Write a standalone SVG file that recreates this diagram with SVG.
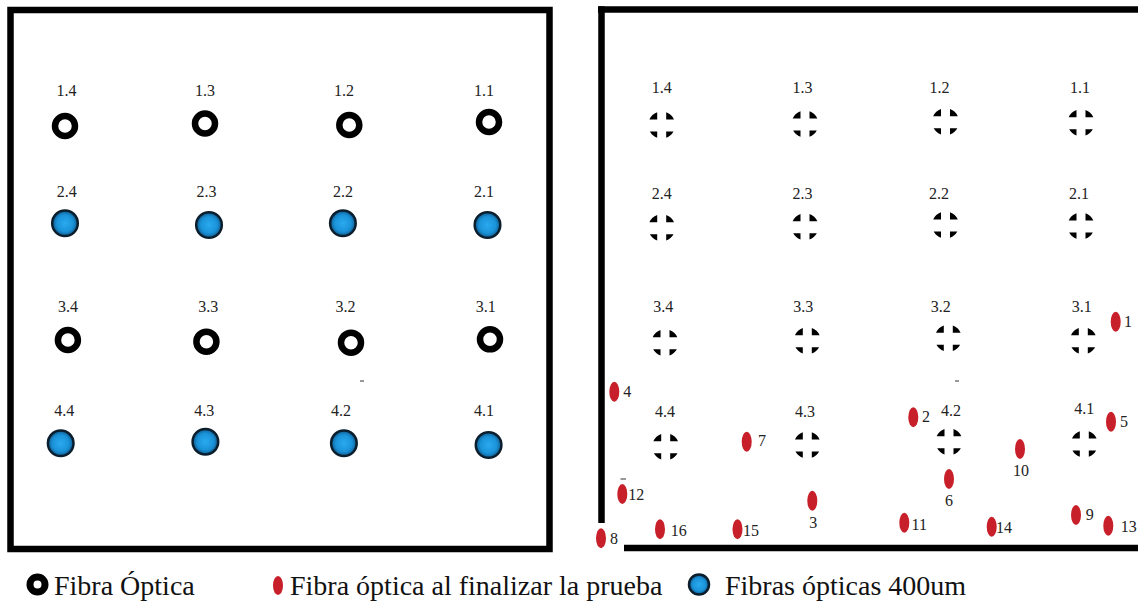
<svg xmlns="http://www.w3.org/2000/svg" xmlns:xlink="http://www.w3.org/1999/xlink" width="1138" height="606" viewBox="0 0 1138 606">
<style>
.frame{fill:none;stroke:#000;stroke-width:6.5}
.ring{fill:none;stroke:#000;stroke-width:6.5}
.blue{fill:url(#bg);stroke:#0a1e2e;stroke-width:2.5}
.red{fill:#c8202a}
.lbl{font-size:16px;fill:#222;text-anchor:middle}
.num{font-size:16px;fill:#222}
.leg{font-size:28px;fill:#111}
.art{stroke:#555;stroke-width:1.2}
</style>
<defs>
<radialGradient id="bg" cx="50%" cy="50%" r="50%">
<stop offset="0" stop-color="#2aaaf0"/>
<stop offset="0.65" stop-color="#1a92d8"/>
<stop offset="1" stop-color="#0f5a8c"/>
</radialGradient>
<path id="xh" fill="#000" d="M-4.5,-5.5 L-4.5,-12.73 A13.5,13.5 0 0 0 -12.33,-5.5 Z M4.5,-5.5 L4.5,-12.73 A13.5,13.5 0 0 1 12.33,-5.5 Z M-4.5,6.5 L-4.5,12.73 A13.5,13.5 0 0 1 -11.83,6.5 Z M4.5,6.5 L4.5,12.73 A13.5,13.5 0 0 0 11.83,6.5 Z"/>
</defs>
<rect width="1138" height="606" fill="#fff"/>
<g font-family="'Liberation Serif','DejaVu Serif','Times New Roman',serif">

<g id="left-panel">
<rect class="frame" x="10.5" y="10" width="539" height="539"/>
<line class="art" x1="360" y1="381" x2="364" y2="381"/>
</g>

<g id="L1.4"><text class="lbl" x="66.5" y="96">1.4</text><circle class="ring" cx="65" cy="126" r="10"/></g>
<g id="L1.3"><text class="lbl" x="205" y="96">1.3</text><circle class="ring" cx="205" cy="123.5" r="10"/></g>
<g id="L1.2"><text class="lbl" x="344" y="96">1.2</text><circle class="ring" cx="349.3" cy="125" r="10"/></g>
<g id="L1.1"><text class="lbl" x="484" y="96">1.1</text><circle class="ring" cx="489" cy="122" r="10"/></g>

<g id="L2.4"><text class="lbl" x="66.8" y="197">2.4</text><circle class="blue" cx="65" cy="223.3" r="12.8"/></g>
<g id="L2.3"><text class="lbl" x="206.4" y="197">2.3</text><circle class="blue" cx="209" cy="225" r="12.8"/></g>
<g id="L2.2"><text class="lbl" x="342.9" y="197">2.2</text><circle class="blue" cx="342.9" cy="223.3" r="12.8"/></g>
<g id="L2.1"><text class="lbl" x="484" y="197">2.1</text><circle class="blue" cx="487.5" cy="225" r="12.8"/></g>

<g id="L3.4"><text class="lbl" x="67.9" y="312">3.4</text><circle class="ring" cx="67.9" cy="340" r="10"/></g>
<g id="L3.3"><text class="lbl" x="208.2" y="312">3.3</text><circle class="ring" cx="206.4" cy="341.7" r="10"/></g>
<g id="L3.2"><text class="lbl" x="345.4" y="312">3.2</text><circle class="ring" cx="351" cy="342.7" r="10"/></g>
<g id="L3.1"><text class="lbl" x="485.7" y="312">3.1</text><circle class="ring" cx="490" cy="339.3" r="10"/></g>

<g id="L4.4"><text class="lbl" x="64.3" y="416">4.4</text><circle class="blue" cx="60.7" cy="443.3" r="12.8"/></g>
<g id="L4.3"><text class="lbl" x="204.3" y="416">4.3</text><circle class="blue" cx="205.4" cy="441.7" r="12.8"/></g>
<g id="L4.2"><text class="lbl" x="341" y="416">4.2</text><circle class="blue" cx="343.9" cy="443.3" r="12.8"/></g>
<g id="L4.1"><text class="lbl" x="484" y="416">4.1</text><circle class="blue" cx="488.6" cy="445" r="12.8"/></g>

<g id="right-panel">
<line class="frame" x1="598" y1="9.5" x2="1138" y2="9.5"/>
<line class="frame" x1="601.5" y1="6.3" x2="601.5" y2="523"/>
<line class="frame" x1="624" y1="548" x2="1138" y2="548"/>
<line class="art" x1="955" y1="381" x2="959" y2="381"/>
<line class="art" x1="620.5" y1="479" x2="626" y2="479"/>
</g>

<g id="R1.4"><text class="lbl" x="661.7" y="93">1.4</text><use xlink:href="#xh" x="661.7" y="125"/></g>
<g id="R1.3"><text class="lbl" x="802.5" y="93">1.3</text><use xlink:href="#xh" x="805" y="124"/></g>
<g id="R1.2"><text class="lbl" x="939.5" y="93">1.2</text><use xlink:href="#xh" x="945.5" y="121.7"/></g>
<g id="R1.1"><text class="lbl" x="1080" y="93">1.1</text><use xlink:href="#xh" x="1081" y="122.7"/></g>

<g id="R2.4"><text class="lbl" x="661.7" y="199">2.4</text><use xlink:href="#xh" x="661.7" y="227.7"/></g>
<g id="R2.3"><text class="lbl" x="802.5" y="199">2.3</text><use xlink:href="#xh" x="805" y="226.7"/></g>
<g id="R2.2"><text class="lbl" x="939" y="199">2.2</text><use xlink:href="#xh" x="945.5" y="225"/></g>
<g id="R2.1"><text class="lbl" x="1079" y="199">2.1</text><use xlink:href="#xh" x="1081" y="226"/></g>

<g id="R3.4"><text class="lbl" x="663.3" y="312">3.4</text><use xlink:href="#xh" x="665" y="342.7"/></g>
<g id="R3.3"><text class="lbl" x="803.3" y="312">3.3</text><use xlink:href="#xh" x="807.3" y="340.7"/></g>
<g id="R3.2"><text class="lbl" x="940.7" y="312">3.2</text><use xlink:href="#xh" x="948.3" y="338.3"/></g>
<g id="R3.1"><text class="lbl" x="1081.7" y="312">3.1</text><use xlink:href="#xh" x="1083.3" y="340.7"/></g>

<g id="R4.4"><text class="lbl" x="665" y="417">4.4</text><use xlink:href="#xh" x="665.7" y="446.7"/></g>
<g id="R4.3"><text class="lbl" x="805" y="417">4.3</text><use xlink:href="#xh" x="807.3" y="445"/></g>
<g id="R4.2"><text class="lbl" x="951" y="415.5">4.2</text><use xlink:href="#xh" x="949" y="441.7"/></g>
<g id="R4.1"><text class="lbl" x="1084.3" y="414">4.1</text><use xlink:href="#xh" x="1084.3" y="444"/></g>

<g id="P1"><ellipse class="red" cx="1115.7" cy="321.7" rx="5" ry="10"/><text class="num" x="1124" y="327">1</text></g>
<g id="P2"><ellipse class="red" cx="913.3" cy="417.3" rx="5" ry="10"/><text class="num" x="922" y="422">2</text></g>
<g id="P3"><ellipse class="red" cx="812.3" cy="500.7" rx="5" ry="10"/><text class="lbl" x="813.3" y="528">3</text></g>
<g id="P4"><ellipse class="red" cx="614.3" cy="391.7" rx="5" ry="10"/><text class="num" x="623.3" y="396.5">4</text></g>
<g id="P5"><ellipse class="red" cx="1111" cy="421.7" rx="5" ry="10"/><text class="num" x="1120" y="426.5">5</text></g>
<g id="P6"><ellipse class="red" cx="949" cy="479" rx="5" ry="10"/><text class="lbl" x="949" y="505.5">6</text></g>
<g id="P7"><ellipse class="red" cx="746.7" cy="441.7" rx="5" ry="10"/><text class="num" x="758" y="445.5">7</text></g>
<g id="P8"><ellipse class="red" cx="601" cy="538.3" rx="5" ry="10"/><text class="num" x="610" y="544">8</text></g>
<g id="P9"><ellipse class="red" cx="1076" cy="515" rx="5" ry="10"/><text class="num" x="1085.7" y="520">9</text></g>
<g id="P10"><ellipse class="red" cx="1020" cy="449" rx="5" ry="10"/><text class="lbl" x="1021" y="475.5">10</text></g>
<g id="P11"><ellipse class="red" cx="904.3" cy="522.7" rx="5" ry="10"/><text class="num" x="911.5" y="530">11</text></g>
<g id="P12"><ellipse class="red" cx="622.3" cy="494" rx="5" ry="10"/><text class="num" x="628.3" y="500">12</text></g>
<g id="P13"><ellipse class="red" cx="1108.3" cy="525.7" rx="5" ry="10"/><text class="num" x="1120.7" y="531.5">13</text></g>
<g id="P14"><ellipse class="red" cx="991.7" cy="526.7" rx="5" ry="10"/><text class="num" x="996" y="533">14</text></g>
<g id="P15"><ellipse class="red" cx="737.5" cy="529.3" rx="5" ry="10"/><text class="num" x="743" y="536">15</text></g>
<g id="P16"><ellipse class="red" cx="660" cy="529.3" rx="5" ry="10"/><text class="num" x="670.7" y="535.5">16</text></g>

<g id="legend">
<circle cx="37.5" cy="584.5" r="7.5" fill="none" stroke="#000" stroke-width="7"/>
<text class="leg" x="54" y="595">Fibra Óptica</text>
<ellipse class="red" cx="278" cy="585.5" rx="5" ry="9.5"/>
<text class="leg" x="290" y="595">Fibra óptica al finalizar la prueba</text>
<circle class="blue" cx="699" cy="584.5" r="10"/>
<text class="leg" x="725" y="595">Fibras ópticas 400um</text>
</g>
</g>
</svg>
